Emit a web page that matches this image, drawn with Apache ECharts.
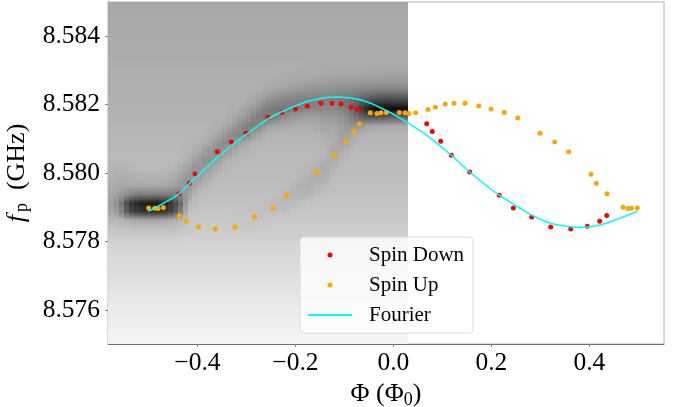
<!DOCTYPE html>
<html><head><meta charset="utf-8">
<style>html,body{margin:0;padding:0;background:#fff}#c{width:680px;height:407px}</style>
<script src="https://cdn.jsdelivr.net/npm/echarts@6/dist/echarts.min.js"></script>
</head><body><div id="c"></div>
<script>
const xTicks = [-0.4,-0.2,0,0.2,0.4];
const yTicks = [8.576,8.578,8.580,8.582,8.584];
const downX = [-0.4376,-0.4165,-0.4049,-0.3594,-0.3308,-0.3008,-0.2559,-0.228,-0.2002,-0.1757,-0.1478,-0.1253,-0.1069,-0.0865,-0.0722,0.068,0.0794,0.0965,0.1182,0.1557,0.2161,0.2447,0.2822,0.321,0.3618,0.3957,0.421,0.4353];
const downY = [8.57939,8.5797,8.57997,8.58062,8.58091,8.58117,8.58163,8.58177,8.58187,8.58196,8.58204,8.58204,8.58202,8.58192,8.58186,8.58144,8.58121,8.58093,8.58052,8.58003,8.57935,8.57898,8.57871,8.57842,8.57836,8.57844,8.57859,8.57876];
const upX = [-0.4994,-0.4871,-0.4804,-0.4696,-0.4369,-0.4227,-0.3973,-0.3635,-0.3233,-0.2839,-0.2463,-0.2186,-0.1573,-0.1206,-0.0973,-0.081,-0.0696,-0.0471,-0.0335,-0.0253,-0.0145,0.012,0.0237,0.0318,0.0455,0.0706,0.0855,0.1059,0.1237,0.1461,0.1741,0.1992,0.2263,0.2537,0.2992,0.3292,0.3578,0.4033,0.4141,0.4359,0.4686,0.4788,0.4855,0.4978];
const upY = [8.57898,8.57897,8.57896,8.57899,8.57875,8.57859,8.57843,8.57836,8.57842,8.57871,8.57898,8.57935,8.58003,8.58052,8.58093,8.58121,8.58144,8.58176,8.58174,8.58176,8.58177,8.58177,8.58176,8.58174,8.58176,8.58186,8.58192,8.58202,8.58204,8.58204,8.58196,8.58187,8.58177,8.58161,8.58116,8.58091,8.58062,8.57996,8.5797,8.57939,8.579,8.57896,8.57897,8.57898];
const fourierX = [-0.5,-0.4763,-0.456,-0.4376,-0.4165,-0.3845,-0.3594,-0.3314,-0.3008,-0.2559,-0.228,-0.2002,-0.1763,-0.1478,-0.1192,-0.0886,-0.0539,-0.0137,0.0135,0.0543,0.068,0.1182,0.1557,0.2161,0.2822,0.321,0.3618,0.3808,0.4216,0.4624,0.4978];
const fourierY = [8.57888,8.57906,8.57922,8.57939,8.57969,8.58012,8.58045,8.58079,8.58112,8.58158,8.58179,8.58196,8.58209,8.58218,8.58222,8.58219,8.58208,8.58182,8.58161,8.58124,8.58111,8.58052,8.58003,8.57935,8.57877,8.57853,8.57843,8.57841,8.57848,8.57868,8.57888];
const heatPhi = [-0.58,-0.56,-0.54,-0.52,-0.50,-0.48,-0.46,-0.44,-0.42,-0.40,-0.38,-0.36,-0.34,-0.32,-0.30,-0.28,-0.26,-0.24,-0.22,-0.20,-0.18,-0.16,-0.14,-0.12,-0.10,-0.08,-0.06,-0.04,-0.02,0.00,0.02];
const heatFreq = [8.584875,8.584625,8.584375,8.584125,8.583875,8.583625,8.583375,8.583125,8.582875,8.582625,8.582375,8.582125,8.581875,8.581625,8.581375,8.581125,8.580875,8.580625,8.580375,8.580125,8.579875,8.579625,8.579375,8.579125,8.578875,8.578625,8.578375,8.578125,8.577875,8.577625,8.577375,8.577125,8.576875,8.576625,8.576375,8.576125,8.575875,8.575625,8.575375,8.575125];
const heatGray = [
[168,168,168,168,168,168,168,168,168,168,168,168,168,168,168,168,168,168,168,168,168,168,168,168,168,168,168,168,168,168,168],
[168,168,168,168,168,168,168,168,168,168,168,168,168,168,168,168,168,168,168,168,168,168,168,168,168,168,168,168,168,168,168],
[170,170,170,170,170,170,170,170,170,170,170,170,170,170,170,170,170,170,170,170,170,170,170,170,170,170,170,170,170,170,170],
[170,170,170,170,170,170,170,170,170,170,170,170,170,170,170,170,170,170,170,170,170,170,170,170,170,170,170,170,170,170,170],
[172,172,172,172,172,172,172,172,172,172,172,172,172,172,172,172,172,172,172,172,172,172,172,172,172,172,172,172,172,172,172],
[172,172,172,172,172,172,172,172,172,172,172,172,172,172,172,172,172,172,172,172,172,172,172,172,172,172,172,172,172,172,172],
[172,172,172,172,172,172,172,172,172,172,172,172,172,172,172,172,172,172,172,172,172,172,172,172,172,172,172,172,172,172,172],
[173,173,173,173,173,173,173,173,173,173,173,173,173,173,173,173,173,173,173,173,173,172,171,171,171,171,170,170,170,170,170],
[174,174,174,174,174,174,174,174,174,174,174,174,174,174,174,174,174,174,173,172,171,170,169,168,167,166,165,165,163,163,163],
[175,175,175,175,175,175,175,175,175,175,175,175,175,175,175,175,174,172,168,165,161,158,156,155,153,152,150,150,148,148,150],
[175,175,175,175,175,175,175,175,175,175,175,175,175,175,175,174,168,160,153,148,145,142,140,138,135,132,125,120,118,118,120],
[176,176,176,176,176,176,176,176,176,176,176,176,176,176,174,165,148,138,130,128,128,128,128,128,120,105,90,72,68,68,72],
[177,177,177,177,177,177,177,177,177,177,177,177,177,174,165,148,128,118,120,125,132,135,138,138,130,100,45,12,6,6,12],
[178,178,178,178,178,178,178,178,178,178,178,178,175,165,150,128,118,130,145,155,160,160,155,152,145,120,95,90,95,100,105],
[180,180,180,180,180,180,180,180,180,180,180,177,167,150,128,125,155,165,170,173,173,172,165,165,155,145,160,168,170,172,172],
[182,182,182,182,182,182,182,182,182,182,178,168,150,130,132,162,178,180,181,181,180,178,172,172,158,170,178,180,180,180,180],
[183,183,183,183,183,183,183,183,183,179,170,152,135,155,170,180,183,183,183,183,183,183,180,172,160,180,184,184,184,184,184],
[184,184,184,184,184,184,184,184,181,172,155,138,155,176,180,184,184,184,184,184,184,184,183,165,175,186,186,186,186,186,186],
[185,185,185,185,185,185,185,185,174,158,142,155,176,185,185,185,185,185,185,185,185,185,176,172,185,187,187,187,187,187,187],
[180,178,182,186,186,186,186,178,162,145,155,174,184,186,186,186,186,186,186,186,186,178,168,182,188,188,188,188,188,188,188],
[178,172,175,178,178,178,176,168,148,155,172,184,187,187,187,187,187,187,187,187,180,172,176,189,189,189,189,189,189,189,189],
[174,168,166,168,168,168,165,155,148,172,184,189,189,189,189,189,189,189,189,180,176,178,186,191,191,191,191,191,191,191,191],
[170,158,135,125,125,125,125,128,160,185,191,191,191,191,191,191,191,191,184,180,180,188,193,193,193,193,193,193,193,193,193],
[165,140,60,35,28,28,40,85,178,193,193,193,193,193,193,193,193,186,184,186,195,195,195,195,195,195,195,195,195,195,195],
[170,150,75,55,48,48,58,100,190,197,197,197,197,197,197,192,190,192,192,198,198,198,198,198,198,198,198,198,198,198,198],
[185,182,172,165,165,165,168,178,197,201,201,201,201,196,196,194,196,201,201,201,201,201,201,201,201,201,201,201,201,201,201],
[196,194,193,192,192,192,192,194,200,203,203,203,203,199,199,203,203,203,203,203,203,203,203,203,203,203,203,203,203,203,203],
[204,204,204,204,204,204,204,204,206,206,206,206,206,206,206,206,206,206,206,206,206,206,206,206,206,206,206,206,206,206,206],
[212,212,212,212,212,212,212,212,212,212,212,212,212,212,212,212,212,212,212,212,212,212,212,212,212,212,212,212,212,212,212],
[215,215,215,215,215,215,215,215,215,215,215,215,215,215,215,215,215,215,215,215,215,215,215,215,215,215,215,215,215,215,215],
[218,218,218,218,218,218,218,218,218,218,218,218,218,218,218,218,218,218,218,218,218,218,218,218,218,218,218,218,218,218,218],
[221,221,221,221,221,221,221,221,221,221,221,221,221,221,221,221,221,221,221,221,221,221,221,221,221,221,221,221,221,221,221],
[224,224,224,224,224,224,224,224,224,224,224,224,224,224,224,224,224,224,224,224,224,224,224,224,224,224,224,224,224,224,224],
[227,227,227,227,227,227,227,227,227,227,227,227,227,227,227,227,227,227,227,227,227,227,227,227,227,227,227,227,227,227,227],
[230,230,230,230,230,230,230,230,230,230,230,230,230,230,230,230,230,230,230,230,230,230,230,230,230,230,230,230,230,230,230],
[233,233,233,233,233,233,233,233,233,233,233,233,233,233,233,233,233,233,233,233,233,233,233,233,233,233,233,233,233,233,233],
[236,236,236,236,236,236,236,236,236,236,236,236,236,236,236,236,236,236,236,236,236,236,236,236,236,236,236,236,236,236,236],
[238,238,238,238,238,238,238,238,238,238,238,238,238,238,238,238,238,238,238,238,238,238,238,238,238,238,238,238,238,238,238],
[241,241,241,241,241,241,241,241,241,241,241,241,241,241,241,241,241,241,241,241,241,241,241,241,241,241,241,241,241,241,241],
[244,244,244,244,244,244,244,244,244,244,244,244,244,244,244,244,244,244,244,244,244,244,244,244,244,244,244,244,244,244,244]
];

const FONT = 'Liberation Serif';
const zip = (a,b) => a.map((v,i)=>[v,b[i]]);
const heatData = [];
heatGray.forEach((row,r)=>row.forEach((g,c)=>heatData.push([heatPhi[c],heatFreq[r],r,c])));
const cellW = heatPhi[1]-heatPhi[0], cellH = heatFreq[0]-heatFreq[1];
const gr = v => { const k=Math.round(v); return `rgb(${k},${k},${k})`; };
const cellAt = (r,c) => { const row=heatGray[Math.max(0,Math.min(heatGray.length-1,r))]; return row[Math.max(0,Math.min(row.length-1,c))]; };
const blend = (r,c,side) => 0.75*cellAt(r,c)+0.25*cellAt(r,c+side);
const halfFill = (r,c,side) => {
  const g=blend(r,c,side),u=blend(r-1,c,side),d=blend(r+1,c,side);
  return new echarts.graphic.LinearGradient(0,0,0,1,[{offset:0,color:gr((g+u)/2)},{offset:.5,color:gr(g)},{offset:1,color:gr((g+d)/2)}]);
};
const chart = echarts.init(document.getElementById('c'),null,{renderer:'canvas'});
const axisCommon = {
  scale:true,
  splitLine:{show:false},
  axisLine:{show:true,onZero:false,lineStyle:{color:'#707070',width:1}},
  axisTick:{show:true,length:3,lineStyle:{color:'#808080',width:1}},
};
chart.setOption({
  animation:false,
  backgroundColor:'#fff',
  grid:{left:108,right:16,top:2,bottom:63,outerBoundsMode:'none',show:true,borderColor:'#b4b4b4',borderWidth:1,backgroundColor:'transparent'},
  xAxis:Object.assign({},axisCommon,{
    type:'value',min:-0.5824,max:0.5522,
    axisTick:Object.assign({},axisCommon.axisTick,{customValues:xTicks}),
    axisLabel:{customValues:xTicks,margin:6,fontFamily:FONT,fontSize:25.5,color:'#000',
      formatter:v=>(v<0?'\u2212':'')+Math.abs(v).toFixed(1)},
    name:'{a|\u03A6 (\u03A6}{b|0}{a|)}',nameLocation:'middle',nameGap:30,
    nameTextStyle:{rich:{a:{fontFamily:FONT,fontSize:26,color:'#000'},b:{fontFamily:FONT,fontSize:18,color:'#000',padding:[12,0,0,0]}}}
  }),
  yAxis:Object.assign({},axisCommon,{
    type:'value',min:8.575,max:8.585,
    axisTick:Object.assign({},axisCommon.axisTick,{customValues:yTicks}),
    axisLabel:{customValues:yTicks,margin:8,fontFamily:FONT,fontSize:25.5,color:'#000',formatter:v=>v.toFixed(3)},
    name:'{i|f}{b|p}{a|\u00A0\u00A0(GHz)}',nameLocation:'middle',nameGap:66,
    nameTextStyle:{rich:{a:{fontFamily:FONT,fontSize:26,color:'#000'},i:{fontFamily:FONT,fontSize:26,fontStyle:'italic',color:'#000',padding:[0,3,0,0]},b:{fontFamily:FONT,fontSize:18,color:'#000',padding:[12,0,0,0]}}}
  }),
  legend:{
    left:300,top:237,orient:'vertical',padding:[6,9,6,7],itemGap:6,itemWidth:44,itemHeight:5,
    backgroundColor:'rgba(255,255,255,0.8)',borderColor:'#dcdcdc',borderWidth:1,borderRadius:4,
    textStyle:{fontFamily:FONT,fontSize:21,color:'#000',lineHeight:24,padding:[0,0,0,12]},
    data:['Spin Down','Spin Up',{name:'Fourier',itemStyle:{opacity:0}}],z:10
  },
  series:[
    {type:'custom',name:'Map',silent:true,clip:true,z:1,data:heatData,encode:{x:0,y:1},
     renderItem:(p,api)=>{
       const x=api.value(0),y=api.value(1),r=api.value(2),c=api.value(3);
       const a=api.coord([x-cellW/2,y+cellH/2]),b=api.coord([x+cellW/2,y-cellH/2]),m=api.coord([x,y]);
       const x0=Math.round(a[0]),x1=Math.round(b[0]),xm=Math.round(m[0]),y0=Math.round(a[1]),y1=Math.round(b[1]);
       return {type:'group',children:[
         {type:'rect',shape:{x:x0,y:y0,width:xm-x0,height:y1-y0},style:{fill:halfFill(r,c,-1)}},
         {type:'rect',shape:{x:xm,y:y0,width:x1-xm,height:y1-y0},style:{fill:halfFill(r,c,1)}}
       ]};
     }},
    {type:'scatter',name:'Spin Down',data:zip(downX,downY),symbolSize:5,itemStyle:{color:'#ff0000',opacity:1},z:3},
    {type:'scatter',name:'Spin Up',data:zip(upX,upY),symbolSize:5,itemStyle:{color:'#ffa500',opacity:1},z:3},
    {type:'line',name:'Fourier',data:zip(fourierX,fourierY),smooth:0.3,showSymbol:false,symbol:'none',lineStyle:{color:'#00ffff',width:1.5},itemStyle:{color:'#00ffff'},z:4}
  ]
});
</script></body></html>
